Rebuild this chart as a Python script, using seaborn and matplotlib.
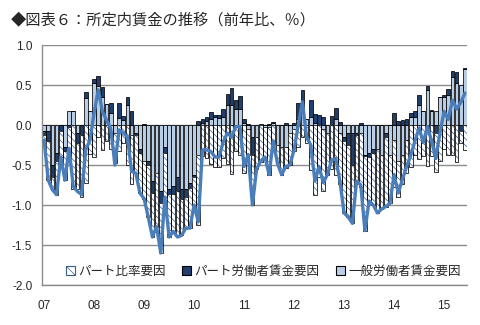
import numpy as np
import matplotlib
matplotlib.use("Agg")
import matplotlib.pyplot as plt
import seaborn as sns
from matplotlib.patches import Patch

# ---------------- data (monthly, 2007-01 .. 2015-06) ----------------
year_labels = ["07", "08", "09", "10", "11", "12", "13", "14", "15"]
series_names = ["パート比率要因", "パート労働者賃金要因", "一般労働者賃金要因"]

# パート比率要因 (hatched)
part_ratio = [
    -0.07, -0.49, -0.16, -0.42, -0.32, -0.36, -0.43, -0.80, -0.58, -0.77, -0.72, -0.36,
    -0.40, -0.15, -0.31, -0.20, -0.30, -0.38, -0.33, -0.22, -0.50, -0.62, -0.48, -0.50,
    -0.48, -0.65, -0.55, -0.67, -0.62, -0.55, -0.54, -0.47, -0.58, -0.46, -0.39, -0.50,
    -0.35, -0.88, -0.39, -0.41, -0.49, -0.52, -0.52, -0.41, -0.49, -0.61, -0.33, -0.38,
    -0.60, -0.33, -0.63, -0.40, -0.46, -0.38, -0.60, -0.24, -0.23, -0.35, -0.27, -0.40,
    -0.28, -0.27, -0.15, -0.23, -0.56, -0.88, -0.65, -0.77, -0.52, -0.55, -0.63, -0.64,
    -0.90, -0.90, -0.73, -0.58, -0.68, -0.93, -0.55, -0.65, -0.80, -0.68, -0.87, -0.61,
    -0.58, -0.45, -0.37, -0.41, -0.53, -0.37, -0.42, -0.39, -0.51, -0.39, -0.49, -0.45,
    -0.30, -0.38, -0.37, -0.46, -0.15, -0.31,
]
# パート労働者賃金要因 (dark navy)
part_wage = [
    -0.04, -0.12, -0.15, -0.10, -0.08, -0.05, -0.03, 0.00, -0.12, -0.13, 0.07, 0.00,
    0.05, 0.12, 0.13, 0.00, 0.12, 0.00, 0.19, 0.05, 0.10, 0.17, -0.02, -0.05,
    0.01, -0.05, -0.15, 0.00, -0.15, -0.08, -0.06, -0.10, -0.17, -0.12, -0.10, -0.06,
    -0.03, 0.05, 0.05, 0.05, 0.08, 0.02, 0.03, 0.10, 0.14, 0.21, 0.11, 0.16,
    0.04, 0.01, -0.22, 0.00, 0.01, 0.00, 0.01, 0.02, 0.00, 0.00, 0.02, 0.00,
    0.02, 0.19, 0.29, 0.00, 0.21, 0.11, 0.13, 0.10, 0.00, 0.11, 0.13, 0.04,
    -0.05, -0.15, -0.40, -0.02, 0.03, -0.02, -0.05, -0.05, 0.00, 0.00, -0.05, 0.00,
    0.15, 0.05, 0.06, 0.08, 0.05, 0.07, 0.13, 0.00, 0.05, 0.02, -0.10, 0.00,
    0.02, 0.08, 0.08, 0.14, -0.07, 0.01,
]
# 一般労働者賃金要因 (light blue)
full_wage = [
    -0.08, -0.08, -0.50, -0.35, 0.00, -0.28, 0.17, 0.17, -0.10, 0.00, 0.34, 0.17,
    0.53, 0.49, 0.35, 0.26, 0.15, -0.10, 0.09, 0.06, 0.25, -0.12, -0.10, -0.30,
    -0.45, -0.45, -0.70, -0.60, -0.83, -0.27, -0.80, -0.76, -0.65, -0.80, -0.80, -0.73,
    -0.62, -0.37, 0.03, 0.05, 0.08, 0.10, 0.09, 0.10, 0.25, 0.25, 0.20, 0.20,
    0.03, -0.05, -0.15, -0.15, 0.00, -0.02, -0.03, 0.02, -0.25, -0.27, -0.27, -0.10,
    -0.05, 0.08, 0.15, 0.08, 0.10, 0.03, 0.00, -0.05, -0.10, 0.00, 0.08, -0.10,
    -0.15, -0.10, -0.10, -0.10, -0.10, -0.37, -0.35, -0.30, -0.30, -0.37, -0.10, -0.37,
    -0.19, -0.45, -0.37, -0.19, 0.10, 0.10, 0.25, 0.17, 0.44, 0.17, 0.17, 0.35,
    0.35, 0.37, 0.60, 0.52, 0.50, 0.70,
]
# 所定内賃金 (line, y/y %)
total = [
    -0.19, -0.69, -0.81, -0.87, -0.40, -0.69, -0.29, -0.77, -0.83, -0.87, -0.31, -0.19,
    0.15, 0.44, 0.17, 0.06, -0.04, -0.50, -0.06, -0.10, -0.15, -0.58, -0.60, -0.85,
    -0.92, -1.15, -1.40, -1.27, -1.60, -0.90, -1.40, -1.33, -1.40, -1.38, -1.29, -1.29,
    -1.00, -1.21, -0.31, -0.31, -0.33, -0.40, -0.40, -0.21, -0.10, -0.15, -0.02, -0.02,
    -0.52, -0.37, -1.00, -0.55, -0.45, -0.40, -0.62, -0.20, -0.48, -0.62, -0.52, -0.50,
    -0.31, 0.00, 0.29, -0.15, -0.25, -0.70, -0.52, -0.72, -0.62, -0.44, -0.42, -0.70,
    -1.10, -1.15, -1.23, -0.70, -0.75, -1.32, -0.95, -1.00, -1.10, -1.05, -1.02, -0.98,
    -0.62, -0.85, -0.68, -0.52, -0.38, -0.20, -0.04, -0.22, -0.02, -0.20, -0.42, -0.10,
    0.17, 0.07, 0.31, 0.20, 0.28, 0.40,
]

# ---------------- style ----------------
sns.set_style("white")
plt.rcParams["font.family"] = ["Noto Sans CJK JP", "DejaVu Sans"]
plt.rcParams["hatch.linewidth"] = 0.5

LIGHT = "#B9CDE5"
DARK = "#1F3F6E"
HATCH = "#3A5A8A"
LINE = "#4A7EBB"
GRID = "#8C8C8C"

fig = plt.figure(figsize=(4.81, 3.25), dpi=100)
ax = fig.add_axes([42 / 481, 40 / 325, 425 / 481, 240 / 325])

n = len(total)
x = np.arange(n)
pos_base = np.zeros(n)
neg_base = np.zeros(n)
W = 0.88
EW = 0.55

layers = [("light", full_wage), ("dark", part_wage), ("hatch", part_ratio)]
for kind, vals in layers:
    v = np.asarray(vals, dtype=float)
    bottom = np.where(v >= 0, pos_base, neg_base)
    if kind == "light":
        ax.bar(x, v, bottom=bottom, width=W, color=LIGHT, edgecolor="black",
               linewidth=EW, zorder=2)
    elif kind == "dark":
        ax.bar(x, v, bottom=bottom, width=W, color=DARK, edgecolor="black",
               linewidth=EW, zorder=2)
    else:
        ax.bar(x, v, bottom=bottom, width=W, color="white", edgecolor=HATCH,
               hatch="\\\\\\\\\\", linewidth=0, zorder=2)
        ax.bar(x, v, bottom=bottom, width=W, fill=False, edgecolor="black",
               linewidth=EW, zorder=2.1)
    pos_base += np.where(v > 0, v, 0)
    neg_base += np.where(v < 0, v, 0)

sns.lineplot(x=x, y=np.asarray(total), ax=ax, color=LINE, linewidth=2.4,
             zorder=4, legend=False)

# axes
ax.set_xlim(-0.5, n - 0.5)
ax.set_ylim(-2.0, 1.0)
yt = np.arange(-2.0, 1.01, 0.5)
ax.set_yticks(yt)
ax.set_yticklabels([f"{v:.1f}" for v in yt], family=["Liberation Sans"], fontsize=8.5)
ax.set_xticks(np.arange(0, n, 12))
ax.set_xticklabels(year_labels, family=["Liberation Sans"], fontsize=8.5)
ax.tick_params(axis="y", length=4, color=GRID, width=1, pad=3)
ax.tick_params(axis="x", length=0, pad=11)
ax.yaxis.grid(True, color=GRID, linewidth=1.0, zorder=0)
ax.set_axisbelow(True)
for s in ["top", "right"]:
    ax.spines[s].set_visible(False)
ax.spines["left"].set_color(GRID)
ax.spines["bottom"].set_color(GRID)
ax.spines["left"].set_linewidth(1.0)
ax.spines["bottom"].set_linewidth(1.0)
ax.set_xlabel("")
ax.set_ylabel("")

handles = [
    Patch(facecolor="white", edgecolor=HATCH, hatch="\\\\\\\\", linewidth=0.8),
    Patch(facecolor=DARK, edgecolor="black", linewidth=0.8),
    Patch(facecolor=LIGHT, edgecolor="black", linewidth=0.8),
]
ax.legend(handles, series_names, loc="lower center", bbox_to_anchor=(0.52, -0.005),
          ncol=3, frameon=False, fontsize=9, handlelength=0.75, handleheight=0.75,
          handletextpad=0.25, columnspacing=1.3, borderaxespad=0.3)

fig.text(11 / 481, 1 - 20 / 325, "◆図表６：所定内賃金の推移（前年比、％）",
         fontsize=11, ha="left", va="center")

fig.savefig("out.png", dpi=100)
